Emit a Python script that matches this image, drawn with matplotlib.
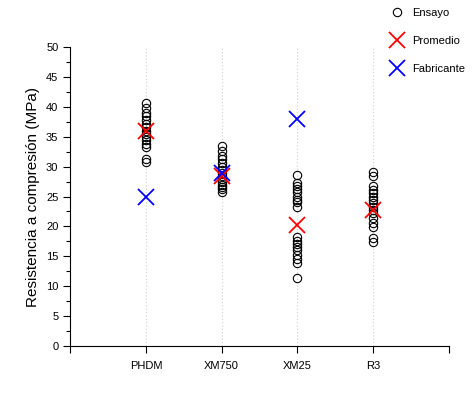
import numpy as np
import matplotlib.pyplot as plt
from matplotlib.ticker import MultipleLocator

plt.rcParams['font.family'] = ['Liberation Sans', 'DejaVu Sans']

categories = ["PHDM", "XM750", "XM25", "R3"]

# individual test results (MPa)
ensayo = {
    "PHDM": [40.6, 39.8, 39.0, 38.4, 37.8, 37.2, 36.6, 36.0, 35.5, 35.0,
             34.4, 33.8, 33.2, 31.2, 30.8],
    "XM750": [33.4, 32.6, 31.8, 31.2, 30.6, 30.0, 29.5, 29.0, 28.5, 28.0,
              27.5, 27.0, 26.6, 26.2, 25.8],
    "XM25": [28.6, 27.3, 26.8, 26.3, 25.8, 25.0, 24.4, 24.0, 23.2, 18.2,
             17.6, 17.0, 16.5, 16.0, 15.2, 14.5, 13.9, 11.4],
    "R3": [29.1, 28.4, 26.8, 26.1, 25.6, 24.9, 24.4, 23.9, 23.2, 22.7,
           22.2, 21.4, 20.6, 19.9, 18.1, 17.4],
}
promedio = [36.0, 28.5, 20.3, 22.8]
fabricante = [24.9, 28.9, 38.0, None]

fig, ax = plt.subplots(figsize=(4.74, 3.95), dpi=100)
fig.subplots_adjust(left=0.148, right=0.947, bottom=0.124, top=0.881)

x = np.arange(1, len(categories) + 1)

for xi in x:
    ax.plot([xi, xi], [0, 50], color="#d0d0d0", lw=0.8, ls=(0, (1, 2)), zorder=0)

for i, cat in enumerate(categories):
    vals = ensayo[cat]
    ax.plot([x[i]] * len(vals), vals, "o", mfc="none", mec="black", mew=0.8,
            ms=6, label="Ensayo" if i == 0 else None, zorder=2)

ax.plot(x, promedio, "x", color="red", ms=11, mew=1.3, label="Promedio", zorder=3)
fab_x = [xi for xi, v in zip(x, fabricante) if v is not None]
fab_y = [v for v in fabricante if v is not None]
ax.plot(fab_x, fab_y, "x", color="blue", ms=11, mew=1.3, label="Fabricante", zorder=3)

ax.set_xlim(0, 5)
ax.set_ylim(0, 50)
ax.set_xticks(range(0, 6))
ax.set_xticklabels([""] + categories + [""], fontsize=8)
ax.yaxis.set_major_locator(MultipleLocator(5))
ax.yaxis.set_minor_locator(MultipleLocator(2.5))
ax.tick_params(axis="y", labelsize=8, length=5, width=0.8)
ax.tick_params(axis="y", which="minor", length=3, width=0.8)
ax.tick_params(axis="x", length=5, width=0.8, pad=6)
ax.set_ylabel("Resistencia a compresión (MPa)", fontsize=11)

for s in ["top", "right"]:
    ax.spines[s].set_visible(False)

ax.legend(loc="upper left", bbox_to_anchor=(0.82, 1.165), frameon=False,
          fontsize=8, labelspacing=1.65, handletextpad=0.7, handlelength=1.2)

fig.savefig("out.png", dpi=100)
